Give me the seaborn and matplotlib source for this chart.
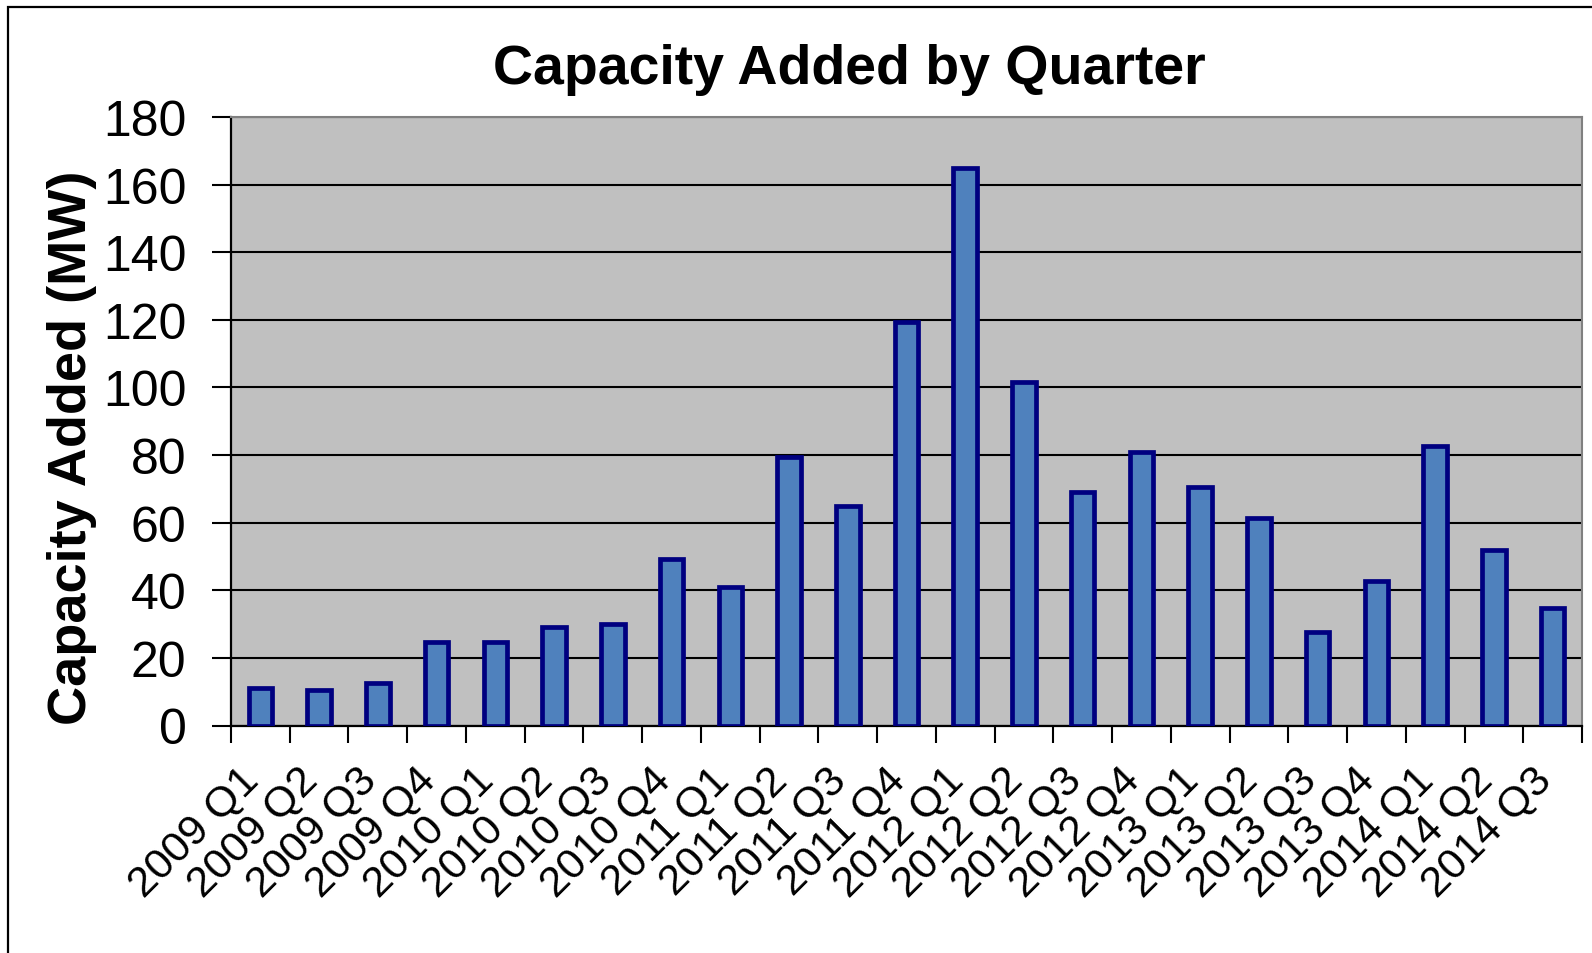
#!/usr/bin/env python3
"""Bar chart of capacity added per quarter, 2009 Q1 to 2014 Q3."""

import matplotlib.pyplot as plt
import pandas as pd
import seaborn as sns
from matplotlib.patches import Rectangle
from matplotlib.ticker import FixedLocator, MultipleLocator

QUARTERS = ["2009 Q1", "2009 Q2", "2009 Q3", "2009 Q4",
            "2010 Q1", "2010 Q2", "2010 Q3", "2010 Q4",
            "2011 Q1", "2011 Q2", "2011 Q3", "2011 Q4",
            "2012 Q1", "2012 Q2", "2012 Q3", "2012 Q4",
            "2013 Q1", "2013 Q2", "2013 Q3", "2013 Q4",
            "2014 Q1", "2014 Q2", "2014 Q3"]
CAPACITY_MW = [11, 10.5, 12.5, 24.7,
               24.7, 29, 30, 49.3,
               41, 79.5, 64.8, 119.5,
               165, 101.7, 69, 81,
               70.6, 61.3, 27.7, 42.8,
               82.8, 52, 34.8]

TITLE = "Capacity Added by Quarter"
YLABEL = "Capacity Added (MW)"


def main():
    sns.set_style("white")
    plt.rcParams["font.family"] = ["Liberation Sans", "DejaVu Sans"]
    plt.rcParams.update({"text.color": "black", "axes.labelcolor": "black",
                         "xtick.color": "black", "ytick.color": "black"})

    df = pd.DataFrame({"quarter": QUARTERS, "capacity": CAPACITY_MW})

    fig = plt.figure(figsize=(15.92, 9.54), dpi=100)
    ax = fig.add_axes([231 / 1592, 1 - 726.5 / 954,
                       1351 / 1592, 608.5 / 954])
    ax.set_facecolor("#C0C0C0")

    sns.barplot(data=df, x="quarter", y="capacity", ax=ax, width=0.4,
                color="#4F81BD", saturation=1, edgecolor="#000080",
                linewidth=3.4, zorder=3)

    # Axes and grid
    ax.set_ylim(0, 180)
    ax.set_xlim(-0.5, len(QUARTERS) - 0.5)
    ax.yaxis.set_major_locator(MultipleLocator(20))
    ax.grid(axis="y", color="black", linewidth=1.5, zorder=1)
    ax.set_axisbelow(True)
    for side in ("left", "bottom"):
        ax.spines[side].set(color="black", linewidth=1.6)
    for side in ("top", "right"):
        ax.spines[side].set(color="#808080", linewidth=1.5)

    ax.tick_params(axis="y", which="major", direction="out", length=14,
                   width=1.5, color="black", left=True, pad=18, labelsize=36)
    ax.tick_params(axis="x", which="major", length=0, pad=40, labelsize=31)
    ax.xaxis.set_minor_locator(
        FixedLocator([i - 0.5 for i in range(len(QUARTERS) + 1)]))
    ax.tick_params(axis="x", which="minor", direction="out", length=12,
                   width=1.5, color="black", bottom=True)
    for lbl in ax.get_xticklabels():
        lbl.set(rotation=45, ha="right", va="baseline",
                rotation_mode="anchor")

    ax.set_xlabel("")
    ax.set_ylabel(YLABEL, fontsize=39, fontweight="bold", va="center")
    ax.yaxis.set_label_coords(-0.1177, 0.4577)

    fig.text(849 / 1592, 1 - 84 / 954, TITLE, fontsize=40,
             fontweight="bold", ha="center", va="baseline")

    # Chart area border (only top and left edge fall inside the picture)
    fig.patches.append(Rectangle((8 / 1592, -0.1), 1.2, 1 - 8 / 954 + 0.1,
                                 transform=fig.transFigure, fill=False,
                                 edgecolor="black", linewidth=1.6))

    fig.savefig("out.png", dpi=100)
    plt.close(fig)


if __name__ == "__main__":
    main()
